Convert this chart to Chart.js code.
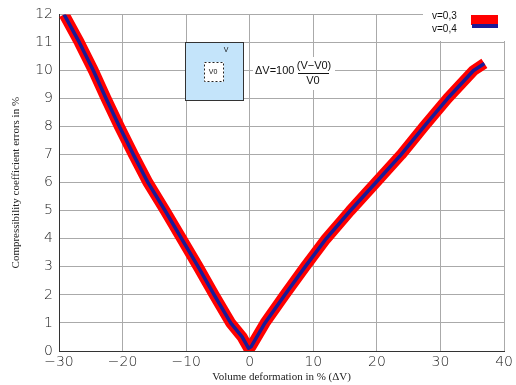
<!DOCTYPE html>
<html>
<head>
<meta charset="utf-8">
<script src="https://cdn.jsdelivr.net/npm/chart.js@4"></script>
<style>
  html, body { margin: 0; padding: 0; background: #fff; }
  #wrap { width: 516px; height: 385px; }
</style>
</head>
<body>
<div id="wrap"><canvas id="myChart" width="516" height="385"></canvas></div>
<script>
// data (x = volume deformation %, y = error %)
const xV03 = [-29.2, -26.8, -24.6, -22.6, -20.5, -18.3, -16.0, -13.3, -10.7, -8.1, -5.6, -3.0, -1.2, -0.2,
              0.2, 2.4, 5.5, 8.7, 12.0, 15.8, 19.8, 23.8, 27.4, 31.1, 35.2, 36.9];
const yV03 = [12, 11, 10, 9, 8, 7, 6, 5, 4, 3, 2, 1, 0.5, 0.1,
              0.15, 1, 2, 3, 4, 5, 6, 7, 8, 9, 10, 10.25];
const xV04 = xV03;
const yV04 = yV03;

const seriesLabels = ['v=0,3', 'v=0,4'];
const xTicks = [-30, -20, -10, 0, 10, 20, 30, 40];
const yTicks = [0, 1, 2, 3, 4, 5, 6, 7, 8, 9, 10, 11, 12];

function toPoints(xs, ys) {
  return xs.map((x, i) => ({ x: x, y: ys[i] }));
}

const tickFont = { family: 'DejaVu Sans', size: 14, weight: 200 };
const titleFont = { family: 'Liberation Serif', size: 11 };

// inset sketch, formula and legend box
const extras = {
  id: 'extras',
  afterDraw(chart) {
    const c = chart.ctx;
    c.save();
    // inset box
    c.fillStyle = '#c4e4fa';
    c.fillRect(185, 42, 59, 59);
    c.strokeStyle = '#333';
    c.lineWidth = 1;
    c.strokeRect(185.5, 42.5, 58, 58);
    c.fillStyle = '#fff';
    c.fillRect(204, 62, 20, 20);
    c.setLineDash([2, 2]);
    c.strokeStyle = '#222';
    c.strokeRect(204.5, 62.5, 19, 19);
    c.setLineDash([]);
    c.fillStyle = '#111';
    c.font = '7px "Liberation Sans"';
    c.textAlign = 'center';
    c.textBaseline = 'middle';
    c.fillText('V0', 213, 72);
    c.fillText('V', 226, 50);

    // formula
    c.fillStyle = '#fff';
    c.fillRect(253, 57, 82, 33);
    c.fillStyle = '#111';
    c.font = '11px "Liberation Sans"';
    c.textAlign = 'left';
    c.fillText('\u0394V=100', 255, 71);
    c.textAlign = 'center';
    c.fillText('(V\u2212V0)', 314, 66);
    c.fillText('V0', 313, 81);
    c.fillRect(298, 73, 31, 1);

    // legend
    c.fillStyle = '#fff';
    c.fillRect(423, 12, 84, 29);
    c.fillStyle = '#111';
    c.font = '10px "Liberation Sans"';
    c.textAlign = 'left';
    c.fillText(seriesLabels[0], 432, 16);
    c.fillText(seriesLabels[1], 432, 29);
    c.fillStyle = '#ff0000';
    c.fillRect(471, 15, 27, 10);
    c.fillStyle = '#1a1a96';
    c.fillRect(472, 24, 26, 4);
    c.restore();
  }
};

const ctx = document.getElementById('myChart').getContext('2d');
const myChart = new Chart(ctx, {
  type: 'scatter',
  data: {
    datasets: [{
      label: seriesLabels[0],
      data: toPoints(xV03, yV03),
      showLine: true,
      borderColor: '#ff0000',
      backgroundColor: '#ff0000',
      borderWidth: 11,
      borderJoinStyle: 'round',
      pointRadius: 0,
      order: 2
    }, {
      label: seriesLabels[1],
      data: toPoints(xV04, yV04),
      showLine: true,
      borderColor: '#1a1a96',
      backgroundColor: '#1a1a96',
      borderWidth: 3.5,
      borderJoinStyle: 'round',
      pointRadius: 0,
      order: 1
    }]
  },
  options: {
    responsive: false,
    animation: false,
    layout: { padding: { top: 11, right: 3, left: 0, bottom: 0 } },
    plugins: {
      legend: { display: false },
      tooltip: { enabled: false }
    },
    scales: {
      x: {
        type: 'linear',
        min: -30,
        max: 40,
        afterBuildTicks: s => { s.ticks = xTicks.map(v => ({ value: v })); },
        afterFit: s => { s.height = 34; },
        grid: { color: '#aaaaaa', drawTicks: false },
        border: { color: '#333', width: 1 },
        ticks: {
          color: '#222',
          font: tickFont,
          padding: 3,
          maxRotation: 0,
          callback: v => String(v).replace('-', '\u2212')
        },
        title: {
          display: true,
          text: 'Volume deformation in % (\u0394V)',
          font: titleFont,
          color: '#222',
          padding: { top: 0, bottom: 1 }
        }
      },
      y: {
        min: 0,
        max: 12,
        afterBuildTicks: s => { s.ticks = yTicks.map(v => ({ value: v })); },
        afterFit: s => { s.width = 59; },
        grid: { color: '#aaaaaa', drawTicks: false },
        border: { color: '#333', width: 1 },
        ticks: { color: '#222', font: tickFont, padding: 6 },
        title: {
          display: true,
          text: 'Compressibility coefficient errors in %',
          font: titleFont,
          color: '#222',
          padding: { top: 10, bottom: 0 }
        }
      }
    }
  },
  plugins: [extras]
});
</script>
</body>
</html>
